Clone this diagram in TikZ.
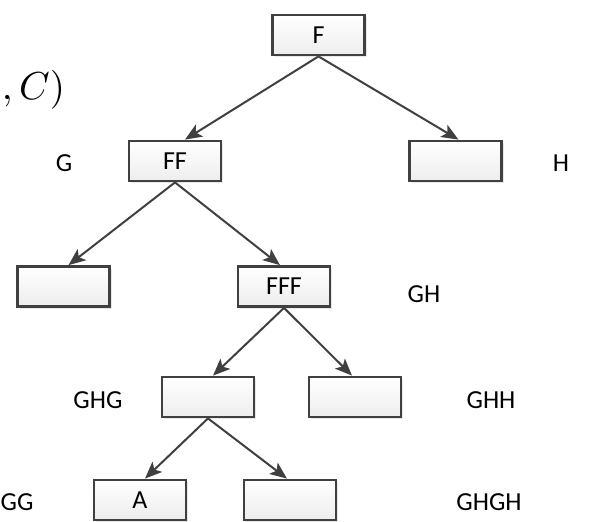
\documentclass[tikz,border=0pt]{standalone}
\usepackage{fontspec}
\setmainfont{Carlito}
\usetikzlibrary{arrows.meta,shadows}
\definecolor{edge}{HTML}{404040}
\tikzset{
  treebox/.style={draw=edge, line width=2.8pt, minimum width=92pt, minimum height=40pt,
    top color=white, bottom color=gray!14, inner sep=0pt,
    drop shadow={shadow xshift=2pt, shadow yshift=-2pt, fill=gray!35, opacity=0.5},
    font=\fontsize{26}{30}\selectfont},
  lbl/.style={font=\fontsize{26}{30}\selectfont, inner sep=0pt},
  conn/.style={draw=edge, line width=2pt, -{Stealth[length=17pt, width=14pt, inset=4pt]}}
}
\begin{document}
\begin{tikzpicture}[x=1pt,y=-1pt]
\useasboundingbox (0,0) rectangle (597,522);
\node[treebox] (f) at (318.5,35) {F};
\node[treebox] (ff) at (175,161) {FF};
\node[treebox] (r2) at (455.5,161) {};
\node[treebox] (l3) at (63.5,286.5) {};
\node[treebox] (fff) at (284,286.5) {FFF};
\node[treebox] (ghg) at (208,397) {};
\node[treebox] (ghh) at (355,397) {};
\node[treebox] (a) at (140,500) {A};
\node[treebox] (r4) at (290,500) {};
\node[lbl] (lg) at (64,163) {G};
\node[lbl] (lh) at (561,163) {H};
\node[lbl] (lgh) at (424,294) {GH};
\node[lbl] (lghg) at (98,400) {GHG};
\node[lbl] (lghh) at (491,400) {GHH};
\node[lbl, anchor=west] (lgg) at (0.5,502) {GG};
\node[lbl] (lghgh) at (489,502) {GHGH};
\node[inner sep=0pt, anchor=west, scale=3.9] (lc) at (1,90) {$,C)$};
\draw[conn] (f.south) -- ([xshift=10pt]ff.north);
\draw[conn] (f.south) -- ([xshift=3pt]r2.north);
\draw[conn] (ff.south) -- ([xshift=5pt]l3.north);
\draw[conn] (ff.south) -- ([xshift=-4pt]fff.north);
\draw[conn] (fff.south) -- ([xshift=5pt]ghg.north);
\draw[conn] (fff.south) -- ([xshift=-3pt]ghh.north);
\draw[conn] (ghg.south) -- ([xshift=5pt]a.north);
\draw[conn] (ghg.south) -- ([xshift=-3pt]r4.north);
\end{tikzpicture}
\end{document}
